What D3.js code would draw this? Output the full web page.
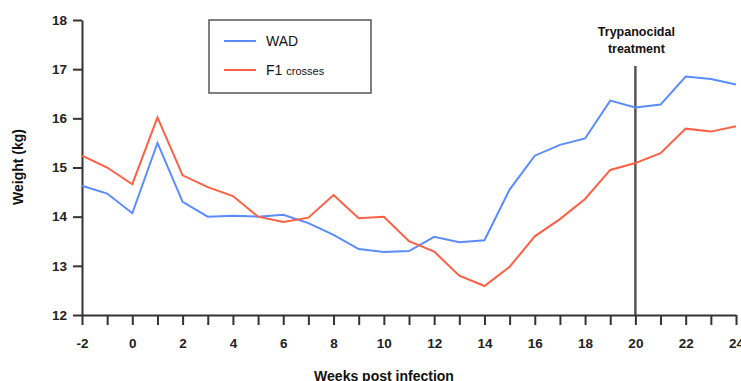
<!doctype html><html><head><style>body{margin:0;background:#fff}</style></head><body><script src='https://d3js.org/d3.v7.min.js'></script>
<script>
  const weeks = d3.range(-2, 25);
  const wad = [14.63, 14.47, 14.07, 15.5, 14.3, 14.0, 14.02, 14.0, 14.04, 13.87, 13.63, 13.34, 13.28, 13.3,
    13.59, 13.48, 13.52, 14.55, 15.24, 15.46, 15.59, 16.36, 16.22, 16.28, 16.85, 16.8, 16.69];
  const f1 = [15.24, 15.0, 14.66, 16.02, 14.84, 14.6, 14.42, 14.0, 13.89, 13.98, 14.44, 13.97, 14.0, 13.5,
    13.29, 12.8, 12.59, 12.98, 13.6, 13.95, 14.36, 14.95, 15.09, 15.29, 15.79, 15.73, 15.84];
  const xTicks = d3.range(-2, 25, 2);
  const yTicks = [12, 13, 14, 15, 16, 17, 18];
  const seriesNames = ["WAD", "F1 crosses"];
  const treatmentWeek = 20;

  const width = 741, height = 381;
  const svg = d3.select("body").append("svg").attr("width", width).attr("height", height)
    .style("font-family", "'Liberation Sans', Arial, sans-serif");

  const x = d3.scaleLinear().domain([-2, 24]).range([82, 736]);
  const y = d3.scaleLinear().domain([12, 18]).range([315, 20]);

  // treatment marker
  svg.append("line")
    .attr("x1", x(treatmentWeek)).attr("x2", x(treatmentWeek))
    .attr("y1", 66).attr("y2", y(12))
    .attr("stroke", "#555").attr("stroke-width", 2.5);
  const tt = svg.append("text").attr("text-anchor", "middle")
    .attr("font-weight", "bold").attr("font-size", "12.5px").attr("fill", "#111");
  tt.append("tspan").attr("x", x(treatmentWeek) + 1).attr("y", 36).text("Trypanocidal");
  tt.append("tspan").attr("x", x(treatmentWeek) + 1).attr("y", 53).text("treatment");

  // axes
  const xAxis = svg.append("g").attr("transform", "translate(0," + y(12) + ")")
    .call(d3.axisBottom(x).tickValues(weeks).tickSize(10).tickSizeOuter(0)
      .tickFormat(d => xTicks.includes(d) ? d : ""));
  const yAxis = svg.append("g").attr("transform", "translate(" + x(-2) + ",0)")
    .call(d3.axisLeft(y).tickValues(yTicks).tickFormat(d3.format("d")).tickSize(9).tickSizeOuter(0));
  [xAxis, yAxis].forEach(g => {
    g.select(".domain").attr("stroke", "#333").attr("stroke-width", 2);
    g.selectAll(".tick line").attr("stroke", "#333").attr("stroke-width", 2);
    g.selectAll("text").attr("font-family", "'Liberation Sans', Arial, sans-serif")
      .attr("font-size", "13.5px").attr("font-weight", "bold").attr("fill", "#222");
  });
  xAxis.selectAll("text").attr("y", 21).attr("dy", "0.9em");
  yAxis.selectAll("text").attr("x", -15);

  svg.append("text").attr("x", 384).attr("y", 381).attr("text-anchor", "middle")
    .attr("font-weight", "bold").attr("font-size", "14px").attr("fill", "#111")
    .text("Weeks post infection");
  svg.append("text").attr("transform", "translate(23,167) rotate(-90)").attr("text-anchor", "middle")
    .attr("font-weight", "bold").attr("font-size", "14px").attr("fill", "#111")
    .text("Weight (kg)");

  // lines
  const colors = ["#5a8cff", "#ff5f45"];
  const line = d3.line().x((d, i) => x(weeks[i])).y(d => y(d));
  [wad, f1].forEach((s, k) => {
    svg.append("path").datum(s).attr("d", line).attr("fill", "none")
      .attr("stroke", colors[k]).attr("stroke-width", 2);
  });

  // legend
  svg.append("rect").attr("x", 209).attr("y", 20).attr("width", 162).attr("height", 73)
    .attr("fill", "#fff").attr("stroke", "#555").attr("stroke-width", 1.5);
  seriesNames.forEach((n, i) => {
    const ly = 41 + i * 29;
    svg.append("line").attr("x1", 224).attr("x2", 256).attr("y1", ly).attr("y2", ly)
      .attr("stroke", colors[i]).attr("stroke-width", 2);
    const t = svg.append("text").attr("x", 266).attr("y", ly + 5).attr("font-size", "14px").attr("fill", "#111");
    if (i === 0) t.text(n);
    else {
      t.append("tspan").text("F1 ");
      t.append("tspan").attr("font-size", "11px").text("crosses");
    }
  });
</script></body></html>
